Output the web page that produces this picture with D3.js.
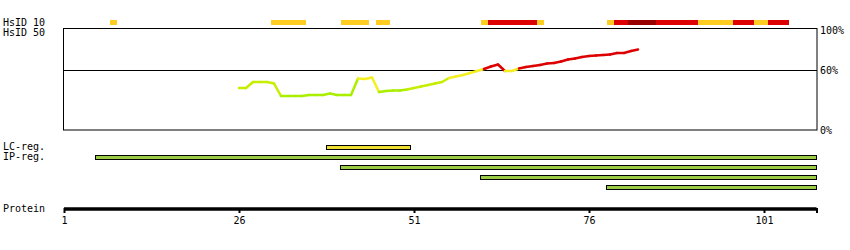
<!DOCTYPE html>
<meta charset="utf-8">
<html lang="en">
<head>
	<meta charset="utf-8">
	<title> Protein identity plot </title>
	<script type="text/javascript" src="https://cdn.jsdelivr.net/npm/d3@7"></script>
	<style type="text/css">
		body { margin: 0; background: white; }
		text { font-family: "DejaVu Sans Mono", monospace; font-size: 10px; fill: black; }
	</style>
</head>
<body>
	<script type="text/javascript">

// DATA
		var proteinLength = 108;
		var axisTicks = [1, 26, 51, 76, 101];
		var pctTicks = [100, 60, 0];

		// HsID 10 row: start residue, end residue, level
		var hsStart = [8, 31, 41, 46, 61, 62, 69, 79, 80, 82, 86, 92, 97, 100, 102];
		var hsEnd   = [8, 35, 44, 47, 61, 68, 69, 79, 81, 85, 91, 96, 99, 101, 104];
		var hsLevel = ["low", "low", "low", "low", "low", "high", "low", "low", "high", "top", "high", "low", "high", "low", "high"];

		// identity curve (residue, percent)
		var idRes = [26, 27, 28, 29, 30, 31, 32, 33, 34, 35, 36, 37, 38, 39, 40, 41, 42, 43, 44, 45,
		             46, 47, 48, 49, 50, 51, 52, 53, 54, 55, 56, 57, 58, 59, 60, 61, 62, 63, 64, 65,
		             66, 67, 68, 69, 70, 71, 72, 73, 74, 75, 76, 77, 78, 79, 80, 81, 82, 83];
		var idPct = [42, 42, 48, 48, 48, 46.5, 34, 34, 34, 34, 35, 35, 35, 36.5, 35, 35, 35, 51.5, 51, 52.5,
		             38, 39, 39.5, 39.5, 40.5, 42, 43.5, 45, 46.5, 48, 52, 53.5, 55, 57, 59, 61, 63.5, 65.5, 59, 59,
		             61.5, 63, 64, 65, 66.5, 67, 68.5, 70.5, 71.5, 73, 74, 74.5, 75, 75.5, 77, 77, 79, 80.5];

		// region bars
		var lcStart = [39];
		var lcEnd = [50];
		var ipStart = [6, 41, 61, 79];
		var ipEnd = [108, 108, 108, 108];

// SIZES
		var w = 850;
		var h = 250;
		var half = 3.5;

		var svg = d3.select("body")
			.append("svg")
			.attr("width", w)
			.attr("height", h);

// SCALES
		var x = d3.scaleLinear().domain([1, proteinLength + 0.5]).range([64, 816.5]);
		var y = d3.scaleLinear().domain([0, 100]).range([130, 30]);

		var hsColor = { low: "#ffcc22", high: "#dd0000", top: "#990000" };

// ROW LABELS
		var labels = [["HsID 10", 26], ["HsID 50", 36], ["LC-reg.", 150], ["IP-reg.", 160], ["Protein", 212]];
		svg.selectAll("text.row")
			.data(labels)
			.enter()
			.append("text")
			.attr("class", "row")
			.attr("x", 3)
			.attr("y", function(d) { return d[1]; })
			.text(function(d) { return d[0]; });

// HsID 10 SEGMENTS
		svg.selectAll("rect.hs")
			.data(hsStart)
			.enter()
			.append("rect")
			.attr("class", "hs")
			.attr("x", function(d) { return x(d) - half; })
			.attr("y", 20)
			.attr("width", function(d, i) { return x(hsEnd[i]) - x(d) + 2 * half; })
			.attr("height", 5)
			.attr("fill", function(d, i) { return hsColor[hsLevel[i]]; })
			.attr("shape-rendering", "crispEdges");

// PLOT BOX
		svg.append("rect")
			.attr("x", 63.5)
			.attr("y", y(100) - 1.5)
			.attr("width", x(proteinLength + 0.5) - 63)
			.attr("height", y(0) - y(100) + 1.5)
			.attr("fill", "none")
			.attr("stroke", "black")
			.attr("stroke-width", 1);

		svg.append("line")
			.attr("x1", 63.5)
			.attr("x2", x(proteinLength + 0.5) + 0.5)
			.attr("y1", y(60) + 0.5)
			.attr("y2", y(60) + 0.5)
			.attr("stroke", "black")
			.attr("stroke-width", 1);

		svg.selectAll("text.pct")
			.data(pctTicks)
			.enter()
			.append("text")
			.attr("class", "pct")
			.attr("x", 820)
			.attr("y", function(d) { return y(d) + 4; })
			.text(function(d) { return d + "%"; });

// IDENTITY CURVE
		function lineColor(v) {
			if (v > 60) return "#dd0000";
			if (v >= 50) return "#f4ee22";
			if (v >= 40) return "#c6ee00";
			return "#aaee00";
		}

		var segs = idRes.slice(0, idRes.length - 1);
		svg.selectAll("line.id")
			.data(segs)
			.enter()
			.append("line")
			.attr("class", "id")
			.attr("x1", function(d) { return x(d); })
			.attr("x2", function(d, i) { return x(idRes[i + 1]); })
			.attr("y1", function(d, i) { return y(idPct[i]); })
			.attr("y2", function(d, i) { return y(idPct[i + 1]); })
			.attr("stroke", function(d, i) { return lineColor(idPct[i]); })
			.attr("stroke-width", 2.5)
			.attr("stroke-linecap", "round");

// REGION BARS
		svg.selectAll("rect.lc")
			.data(lcStart)
			.enter()
			.append("rect")
			.attr("class", "lc")
			.attr("x", function(d) { return x(d) - half; })
			.attr("y", 145.5)
			.attr("width", function(d, i) { return x(lcEnd[i]) - x(d) + 2 * half; })
			.attr("height", 4)
			.attr("fill", "#eedd33")
			.attr("stroke", "black")
			.attr("stroke-width", 1);

		svg.selectAll("rect.ip")
			.data(ipStart)
			.enter()
			.append("rect")
			.attr("class", "ip")
			.attr("x", function(d) { return x(d) - half; })
			.attr("y", function(d, i) { return 155.5 + i * 10; })
			.attr("width", function(d, i) { return x(ipEnd[i]) - x(d) + 2 * half; })
			.attr("height", 4)
			.attr("fill", "#99cc44")
			.attr("stroke", "black")
			.attr("stroke-width", 1);

// PROTEIN AXIS
		var axis = d3.axisBottom(x)
			.tickValues(axisTicks.concat([proteinLength + 0.5]))
			.tickSize(4)
			.tickFormat(function(d) { return axisTicks.indexOf(d) >= 0 ? d : ""; });

		var g = svg.append("g")
			.attr("transform", "translate(0,209)")
			.call(axis);

		g.select(".domain")
			.attr("d", "M" + x(1) + ",0H" + x(proteinLength + 0.5))
			.attr("stroke", "black")
			.attr("stroke-width", 3.5);

		g.selectAll(".tick line")
			.attr("y1", -1)
			.attr("stroke", "black")
			.attr("stroke-width", 2);

		g.selectAll(".tick text")
			.attr("y", 15)
			.attr("dy", 0)
			.style("font-family", "DejaVu Sans Mono, monospace")
			.style("font-size", "10px")
			.attr("fill", "black");

	</script>
</body>
</html>
